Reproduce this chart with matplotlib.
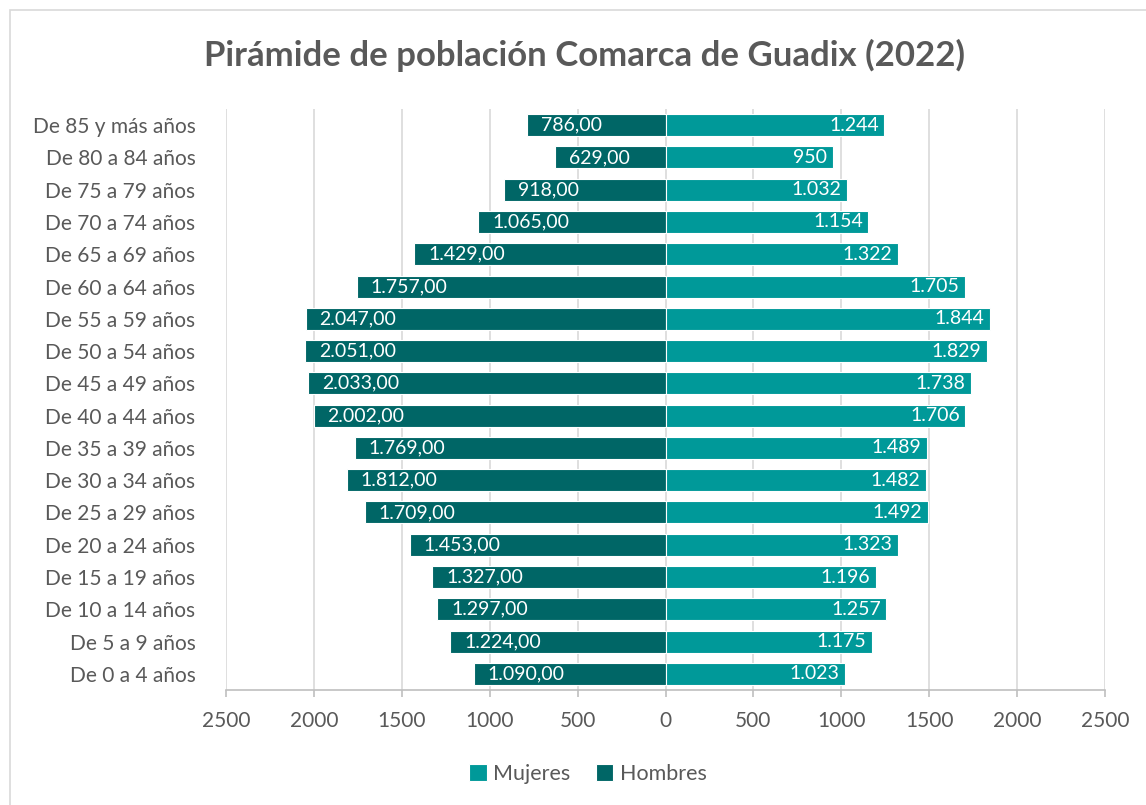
import matplotlib
matplotlib.use("Agg")
import matplotlib.pyplot as plt
from matplotlib.patches import Rectangle
from matplotlib.ticker import FixedLocator, FuncFormatter

plt.rcParams['font.family'] = ['Lato', 'DejaVu Sans']

categorias = ["De 0 a 4 años", "De 5 a 9 años", "De 10 a 14 años", "De 15 a 19 años",
              "De 20 a 24 años", "De 25 a 29 años", "De 30 a 34 años", "De 35 a 39 años",
              "De 40 a 44 años", "De 45 a 49 años", "De 50 a 54 años", "De 55 a 59 años",
              "De 60 a 64 años", "De 65 a 69 años", "De 70 a 74 años", "De 75 a 79 años",
              "De 80 a 84 años", "De 85 y más años"]
hombres = [1090, 1224, 1297, 1327, 1453, 1709, 1812, 1769, 2002, 2033, 2051, 2047,
           1757, 1429, 1065, 918, 629, 786]
mujeres = [1023, 1175, 1257, 1196, 1323, 1492, 1482, 1489, 1706, 1738, 1829, 1844,
           1705, 1322, 1154, 1032, 950, 1244]
xticks = [-2500, -2000, -1500, -1000, -500, 0, 500, 1000, 1500, 2000, 2500]

c_muj = '#009999'
c_hom = '#006666'
gris = '#595959'

fig = plt.figure(figsize=(11.46, 8.05), dpi=100)
ax = fig.add_axes([226/1146, 1-690/805, (1105-226)/1146, (690-109)/805])

# chart border
fig.patches.append(Rectangle((10/1146, -0.1), 1.2, (805-10)/805 + 0.1,
                             transform=fig.transFigure, fill=False,
                             edgecolor='#d9d9d9', linewidth=1.2, zorder=0))

y = list(range(len(categorias)))
neg_h = [-v for v in hombres]
bh = ax.barh(y, neg_h, height=0.68, color=c_hom, edgecolor='white', linewidth=0.8,
             label='Hombres', zorder=3)
bm = ax.barh(y, mujeres, height=0.68, color=c_muj, edgecolor='white', linewidth=0.8,
             label='Mujeres', zorder=3)

def fmt_h(v):
    s = f"{v:,.2f}"
    return s.replace(',', 'X').replace('.', ',').replace('X', '.')

def fmt_m(v):
    return f"{v:,.0f}".replace(',', '.')

for yi, v in zip(y, hombres):
    ax.annotate(fmt_h(v), xy=(-v, yi), xytext=(10, 0), textcoords='offset points',
                ha='left', va='center', color='white', fontsize=14, zorder=4)
for yi, v in zip(y, mujeres):
    ax.annotate(fmt_m(v), xy=(v, yi), xytext=(-4, 0), textcoords='offset points',
                ha='right', va='center', color='white', fontsize=14, zorder=4)

ax.set_xlim(-2500, 2500)
ax.set_ylim(-0.5, len(categorias) - 0.5)
ax.set_yticks(y)
ax.set_yticklabels(categorias)
ax.xaxis.set_major_locator(FixedLocator(xticks))
ax.xaxis.set_major_formatter(FuncFormatter(lambda v, p: f"{abs(int(v))}"))

ax.grid(axis='x', color='#d9d9d9', linewidth=1.2, zorder=0)
ax.set_axisbelow(True)
for s in ['top', 'right', 'left']:
    ax.spines[s].set_visible(False)
ax.spines['bottom'].set_color('#bfbfbf')
ax.spines['bottom'].set_linewidth(1.2)
ax.tick_params(axis='y', length=0, pad=22, labelsize=15, labelcolor=gris)
ax.tick_params(axis='x', length=5, color='#bfbfbf', width=1.2, pad=10,
               labelsize=15, labelcolor=gris)

fig.text(585/1146, 1-55/805, "Pirámide de población Comarca de Guadix (2022)",
         ha='center', va='center', fontsize=25, fontweight='bold', color=gris)

handles = [bm, bh]
leg = fig.legend(handles, ['Mujeres', 'Hombres'], loc='center',
                 bbox_to_anchor=(588/1146, 1-774/805), ncol=2, frameon=False,
                 fontsize=15.5, handlelength=0.8, handleheight=0.8,
                 handletextpad=0.3, columnspacing=1.2)
for t in leg.get_texts():
    t.set_color(gris)

fig.savefig('out.png', dpi=100)
